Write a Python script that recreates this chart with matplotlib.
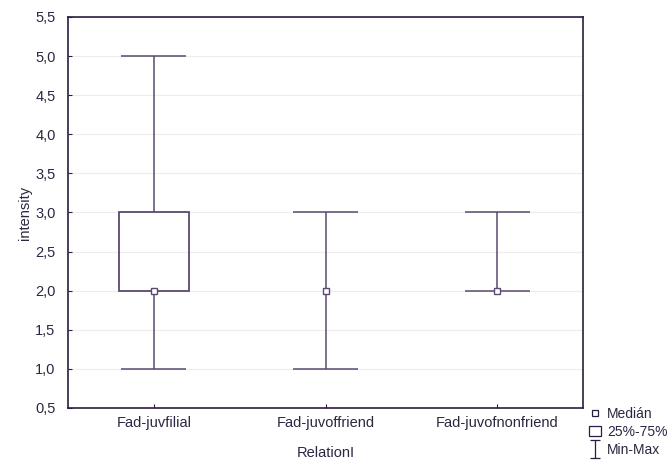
import matplotlib.pyplot as plt
from matplotlib.lines import Line2D
from matplotlib.patches import Patch
from matplotlib.path import Path
import numpy as np

plt.rcParams['font.family'] = ['Liberation Sans', 'DejaVu Sans']

### Data
categories = ["Fad-juvfilial", "Fad-juvoffriend", "Fad-juvofnonfriend"]
mins = [1.0, 1.0, 2.0]
q1s = [2.0, 2.0, 2.0]
medians = [2.0, 2.0, 2.0]
q3s = [3.0, 2.0, 2.0]
maxs = [5.0, 3.0, 3.0]
yticks = [0.5, 1.0, 1.5, 2.0, 2.5, 3.0, 3.5, 4.0, 4.5, 5.0, 5.5]

line_col = '#5a4a70'
spine_col = '#2b1d40'
text_col = '#2e2540'
fs = 10.5

fig = plt.figure(figsize=(6.72, 4.63), dpi=100)
ax = fig.add_axes([0.1012, 0.1188, 0.7664, 0.8445])

x = np.arange(len(categories))

# whiskers (outside the box only)
ax.vlines(x, q3s, maxs, color=line_col, lw=1.1, zorder=2)
ax.vlines(x, mins, q1s, color=line_col, lw=1.1, zorder=2)
# caps
cap_w = 0.38
ax.hlines(maxs, x - cap_w / 2, x + cap_w / 2, color=line_col, lw=1.1, zorder=2)
ax.hlines(mins, x - cap_w / 2, x + cap_w / 2, color=line_col, lw=1.1, zorder=2)

# boxes (skip degenerate ones)
heights = np.array(q3s) - np.array(q1s)
keep = heights > 0
ax.bar(x[keep], heights[keep], bottom=np.array(q1s)[keep], width=0.41,
       fill=False, edgecolor=line_col, linewidth=1.3, zorder=3)

# medians
ax.plot(x, medians, ls='none', marker='s', ms=5, mfc='white',
        mec=line_col, mew=1.0, zorder=4)

ax.set_xlim(-0.5, 2.5)
ax.set_ylim(0.5, 5.5)
ax.set_xticks(x)
ax.set_xticklabels(categories, fontsize=fs)
ax.set_yticks(yticks)
ax.set_yticklabels([f"{v:.1f}".replace('.', ',') for v in yticks], fontsize=fs)
ax.grid(axis='y', color='#efecef', lw=0.8, zorder=0)
ax.set_axisbelow(True)

for s in ax.spines.values():
    s.set_color(spine_col)
    s.set_linewidth(1.2)
ax.tick_params(direction='in', length=3, color=spine_col, labelcolor=text_col)
ax.tick_params(axis='y', pad=9)
ax.tick_params(axis='x', pad=6)

ax.set_ylabel('intensity', fontsize=fs, color=text_col, labelpad=2)
ax.set_xlabel('RelationI', fontsize=fs, color=text_col, labelpad=11)

# whisker-style legend symbol
whisker_marker = Path([(-0.5, 1), (0.5, 1), (0, 1), (0, -1), (-0.5, -1), (0.5, -1)],
                      [Path.MOVETO, Path.LINETO, Path.MOVETO, Path.LINETO,
                       Path.MOVETO, Path.LINETO])

handles = [
    Line2D([], [], ls='none', marker='s', ms=5, mfc='white', mec=spine_col, mew=0.9),
    Patch(facecolor='white', edgecolor=spine_col, linewidth=0.9),
    Line2D([], [], ls='none', marker=whisker_marker, ms=13, mew=0.9,
           color=spine_col),
]
leg = fig.legend(handles, ['Medián', '25%-75%', 'Min-Max'],
                 loc='lower left', bbox_to_anchor=(0.862, -0.008), frameon=False,
                 fontsize=10, handlelength=0.9, handletextpad=0.4,
                 labelspacing=0.3, borderpad=0.2)
for t in leg.get_texts():
    t.set_color(text_col)

fig.savefig('out.png', dpi=100)
